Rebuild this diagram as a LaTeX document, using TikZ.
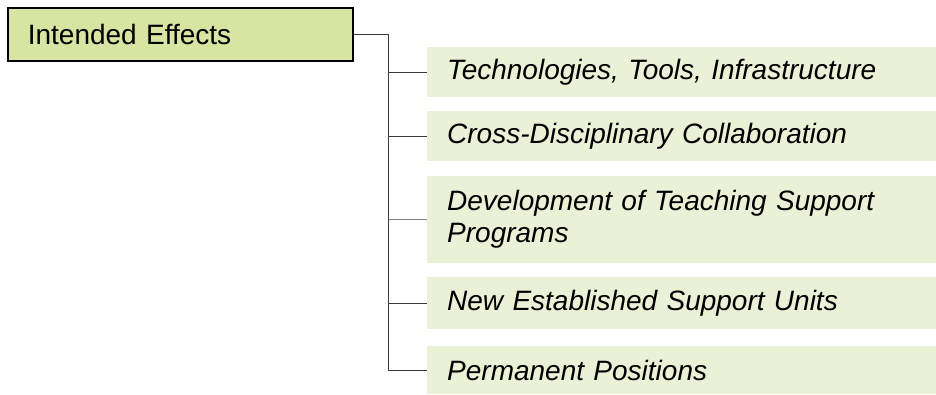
\documentclass[tikz,border=0pt]{standalone}
\usepackage{fontspec}
\setmainfont{Liberation Sans}
\usepackage{tikz}
\usetikzlibrary{positioning, calc}
\definecolor{effgreen}{HTML}{D7E4A2}
\definecolor{efflight}{HTML}{EBF1D6}
\definecolor{efflink}{HTML}{3A3A3A}

\begin{document}
\begin{tikzpicture}[
  x=1pt, y=-1pt,
  headbox/.style={
    rectangle,
    draw=black,
    line width=1.6pt,
    fill=effgreen,
    minimum width=345pt,
    minimum height=53pt,
    inner xsep=20pt,
    anchor=west,
    font=\fontsize{28}{32}\selectfont
  },
  itembox/.style={
    rectangle,
    fill=efflight,
    minimum height=#1,
    text width=469pt,
    inner xsep=20pt,
    inner ysep=0pt,
    align=left,
    anchor=west,
    font=\fontsize{28}{32}\selectfont\itshape
  },
  link/.style={draw=efflink, line width=0.9pt}
]
  \useasboundingbox (0,0) rectangle (936,394);

  \node[headbox, text width=305pt] (head) at (7,34.5) {Intended Effects};

  \node[itembox=50pt] (tech) at (427,72) {Technologies, Tools, Infrastructure};
  \node[itembox=50pt] (collab) at (427,136) {Cross-Disciplinary Collaboration};
  \node[itembox=87pt] (teach) at (427,219.5) {Development of Teaching Support\\Programs};
  \node[itembox=52pt] (units) at (427,303) {New Established Support Units};
  \node[itembox=48pt] (perm) at (427,370) {Permanent Positions};

  \coordinate (trunk) at (388,34.5);

  \draw[link] (head.east) -- (trunk) |- (perm.west);
  \draw[link] (trunk) |- (tech.west);
  \draw[link] (trunk) |- (collab.west);
  \draw[link, draw=gray] (trunk) |- (teach.west);
  \draw[link] (trunk) |- (units.west);
\end{tikzpicture}
\end{document}
